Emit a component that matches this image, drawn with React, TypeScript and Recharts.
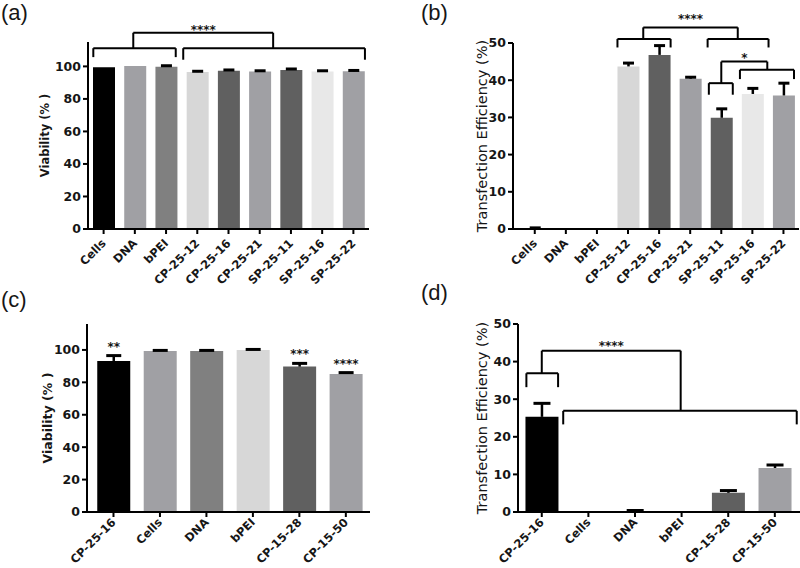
import { Bar, BarChart, Cell, LabelList, ReferenceDot, ReferenceLine, XAxis, YAxis } from 'recharts'

const FONT = '"DejaVu Sans", Arial, sans-serif'
const INK = '#161616'

// panels (a) and (b)
const abGroups = ['Cells', 'DNA', 'bPEI', 'CP-25-12', 'CP-25-16', 'CP-25-21', 'SP-25-11', 'SP-25-16', 'SP-25-22']
const abColors = ['#000000', '#a0a0a4', '#808080', '#d7d7d7', '#606060', '#a0a0a4', '#606060', '#e8e8e8', '#a0a0a4']
const aViability = [99.5, 100.2, 99.8, 96.5, 97.3, 96.8, 97.8, 96.9, 97.0]
const aViabilityErr = [null, null, 0.6, 0.5, 0.5, 0.5, 0.6, 0.4, 0.5]
const bTransfection = [0.2, 0, 0, 43.7, 46.8, 40.4, 29.9, 36.3, 35.9]
const bTransfectionErr = [0.1, null, null, 0.9, 2.5, 0.4, 2.4, 1.5, 3.3]

// panels (c) and (d)
const cdGroups = ['CP-25-16', 'Cells', 'DNA', 'bPEI', 'CP-15-28', 'CP-15-50']
const cdColors = ['#000000', '#a0a0a4', '#808080', '#d7d7d7', '#606060', '#a0a0a4']
const cViability = [93.2, 99.4, 99.4, 100, 89.7, 85.2]
const cViabilityErr = [3.3, 0.3, 0.3, 0.3, 2.0, 0.8]
const cStars = ['**', '', '', '', '***', '****']
const dTransfection = [25.3, 0.1, 0.2, 0, 5.1, 11.7]
const dTransfectionErr = [3.6, null, 0.2, null, 0.6, 0.8]

const viabilityTicks = [0, 20, 40, 60, 80, 100]
const transfectionTicks = [0, 10, 20, 30, 40, 50]

// significance brackets, in category index / value units
type Bracket = { x1: number; x2: number; y: number; d1: number; d2: number }
const aBrackets: Bracket[] = [
  { x1: -0.33, x2: 2.31, y: 111.2, d1: 105.7, d2: 105.7 },
  { x1: 2.55, x2: 8.37, y: 111.2, d1: 104.1, d2: 104.1 },
  { x1: 0.95, x2: 5.43, y: 120.7, d1: 111.2, d2: 111.2 },
]
const aMarks = [{ x: 3.19, y: 122.9, text: '****' }]

const bBrackets: Bracket[] = [
  { x1: 2.66, x2: 4.37, y: 51.1, d1: 48.8, d2: 48.8 },
  { x1: 5.56, x2: 7.52, y: 51.1, d1: 48.8, d2: 48.8 },
  { x1: 3.49, x2: 6.53, y: 54.2, d1: 51.1, d2: 51.1 },
  { x1: 6.0, x2: 7.48, y: 45.0, d1: 39.2, d2: 42.8 },
  { x1: 5.6, x2: 6.37, y: 39.2, d1: 36.1, d2: 36.1 },
  { x1: 6.6, x2: 8.34, y: 42.8, d1: 40.3, d2: 40.3 },
]
const bMarks = [
  { x: 5.01, y: 56.5, text: '****' },
  { x: 6.74, y: 46.1, text: '*' },
]

const dBrackets: Bracket[] = [
  { x1: -0.33, x2: 0.35, y: 36.9, d1: 33.2, d2: 33.2 },
  { x1: 0.46, x2: 5.47, y: 26.9, d1: 23.3, d2: 23.3 },
  { x1: 0.0, x2: 2.98, y: 42.9, d1: 36.9, d2: 26.9 },
]
const dMarks = [{ x: 1.49, y: 44.2, text: '****' }]

const rows = (values: number[], errs: (number | null)[], stars?: string[]) =>
  values.map((v, i) => ({ i, v, e: errs[i], sig: stars ? stars[i] : '' }))

function bracketLines(b: Bracket, k: string) {
  const line = (key: string, p: { x: number; y: number }[]) => (
    <ReferenceLine key={key} segment={p} stroke="#000" strokeWidth={2} ifOverflow="visible" />
  )
  return [
    line(k + 'h', [{ x: b.x1, y: b.y }, { x: b.x2, y: b.y }]),
    line(k + 'l', [{ x: b.x1, y: b.y }, { x: b.x1, y: b.d1 }]),
    line(k + 'r', [{ x: b.x2, y: b.y }, { x: b.x2, y: b.d2 }]),
  ]
}

const starText = (x: number, y: number, text: string) => (
  <text x={x} y={y} textAnchor="middle" fontSize={12} fontWeight={700} fontFamily={FONT} fill={INK} stroke="none">
    {text}
  </text>
)

function SlantTick(props: any) {
  const { x, y, payload, names, size, dy } = props
  return (
    <g transform={`translate(${x + 3},${y + dy})`}>
      <text textAnchor="end" transform="rotate(-45)" fontSize={size} fontWeight={700} fontFamily={FONT} fill={INK}>
        {names[payload.value]}
      </text>
    </g>
  )
}

function ErrorTip(props: any) {
  const { x, y, width, height, payload, cap } = props
  if (payload == null || payload.e == null) return <g />
  const cx = x + width / 2
  return (
    <g stroke="#000">
      <line x1={cx} x2={cx} y1={y + height} y2={y} strokeWidth={2.5} />
      <line x1={cx - cap} x2={cx + cap} y1={y} y2={y} strokeWidth={3} />
    </g>
  )
}

type PanelProps = {
  left: number
  top: number
  width: number
  height: number
  margin: { top: number; right: number; bottom: number; left: number }
  yWidth: number
  data: { i: number; v: number; e: number | null; sig: string }[]
  names: string[]
  colors: string[]
  xDomain: [number, number]
  yDomain: [number, number]
  yTicks: number[]
  title: string
  titleSize: number
  titleWeight: number
  tickSize: number
  tickDy: number
  barSize: number
  cap: number
  brackets?: Bracket[]
  marks?: { x: number; y: number; text: string }[]
}

function Panel(p: PanelProps) {
  const axis = { stroke: '#000', strokeWidth: 2 }
  return (
    <div style={{ position: 'absolute', left: p.left, top: p.top }}>
      <BarChart width={p.width} height={p.height} data={p.data} margin={p.margin}>
        <XAxis
          dataKey="i"
          type="number"
          domain={p.xDomain}
          ticks={p.names.map((_, i) => i)}
          interval={0}
          height={55}
          axisLine={axis}
          tickLine={axis}
          tickSize={5}
          tick={(t: any) => <SlantTick {...t} names={p.names} size={p.tickSize} dy={p.tickDy} />}
        />
        <YAxis
          type="number"
          domain={p.yDomain}
          ticks={p.yTicks}
          width={p.yWidth}
          axisLine={axis}
          tickLine={axis}
          tickSize={5}
          tickMargin={2}
          tick={{ fill: INK, fontSize: 12.5, fontWeight: 700, fontFamily: FONT }}
          label={{
            value: p.title,
            angle: -90,
            position: 'center',
            fill: INK,
            fontSize: p.titleSize,
            fontWeight: p.titleWeight,
            fontFamily: FONT,
          }}
        />
        <Bar dataKey="v" stackId="s" barSize={p.barSize} isAnimationActive={false}>
          {p.data.map((d) => (
            <Cell key={d.i} fill={p.colors[d.i]} />
          ))}
        </Bar>
        <Bar
          dataKey="e"
          stackId="s"
          barSize={p.barSize}
          isAnimationActive={false}
          shape={(s: any) => <ErrorTip {...s} cap={p.cap} />}
        >
          <LabelList
            dataKey="sig"
            content={(lp: any) => (lp.value ? starText(lp.x + lp.width / 2, lp.y - 5, lp.value) : null)}
          />
        </Bar>
        {(p.brackets ?? []).flatMap((b, k) => bracketLines(b, 'b' + k))}
        {(p.marks ?? []).map((m, k) => (
          <ReferenceDot
            key={'m' + k}
            x={m.x}
            y={m.y}
            r={0}
            fill="none"
            stroke="none"
            ifOverflow="visible"
            label={(lp: any) =>
              starText(lp.viewBox.x + lp.viewBox.width / 2, lp.viewBox.y + lp.viewBox.height / 2 + 4.5, m.text)
            }
          />
        ))}
      </BarChart>
    </div>
  )
}

const letter = (text: string, left: number, top: number) => (
  <div
    style={{
      position: 'absolute',
      left,
      top,
      fontFamily: '"Liberation Sans", Arial, sans-serif',
      fontSize: 22,
      lineHeight: 1,
      color: INK,
    }}
  >
    {text}
  </div>
)

export default function App() {
  return (
    <div style={{ position: 'absolute', left: 0, top: 0, width: 800, height: 568, background: '#fff', overflow: 'hidden' }}>
      <Panel
        left={0}
        top={0}
        width={400}
        height={290}
        margin={{ top: 42, right: 31, bottom: 6, left: 2 }}
        yWidth={86}
        data={rows(aViability, aViabilityErr)}
        names={abGroups}
        colors={abColors}
        xDomain={[-0.5, 8.5]}
        yDomain={[0, 115]}
        yTicks={viabilityTicks}
        title="Viability (% )"
        titleSize={11.5}
        titleWeight={700}
        tickSize={11.5}
        tickDy={8}
        barSize={22}
        cap={5.5}
        brackets={aBrackets}
        marks={aMarks}
      />
      <Panel
        left={400}
        top={0}
        width={400}
        height={290}
        margin={{ top: 43, right: 1, bottom: 6, left: 50 }}
        yWidth={63}
        data={rows(bTransfection, bTransfectionErr)}
        names={abGroups}
        colors={abColors}
        xDomain={[-0.7, 8.5]}
        yDomain={[0, 50]}
        yTicks={transfectionTicks}
        title="Transfection Efficiency (%)"
        titleSize={14.5}
        titleWeight={400}
        tickSize={11.5}
        tickDy={8}
        barSize={22}
        cap={5.5}
        brackets={bBrackets}
        marks={bMarks}
      />
      <Panel
        left={0}
        top={290}
        width={400}
        height={278}
        margin={{ top: 34, right: 30, bottom: 1, left: 9 }}
        yWidth={78}
        data={rows(cViability, cViabilityErr, cStars)}
        names={cdGroups}
        colors={cdColors}
        xDomain={[-0.57, 5.52]}
        yDomain={[0, 116]}
        yTicks={viabilityTicks}
        title="Viability (% )"
        titleSize={12.5}
        titleWeight={700}
        tickSize={11.5}
        tickDy={4}
        barSize={33}
        cap={7.5}
      />
      <Panel
        left={400}
        top={290}
        width={400}
        height={278}
        margin={{ top: 34, right: 0, bottom: 1, left: 45 }}
        yWidth={73}
        data={rows(dTransfection, dTransfectionErr)}
        names={cdGroups}
        colors={cdColors}
        xDomain={[-0.51, 5.54]}
        yDomain={[0, 50]}
        yTicks={transfectionTicks}
        title="Transfection Efficiency (%)"
        titleSize={14.5}
        titleWeight={400}
        tickSize={11.5}
        tickDy={4}
        barSize={33}
        cap={8.5}
        brackets={dBrackets}
        marks={dMarks}
      />
      {letter('(a)', 1, 2)}
      {letter('(b)', 421, 2)}
      {letter('(c)', 1, 289)}
      {letter('(d)', 421, 282)}
    </div>
  )
}
